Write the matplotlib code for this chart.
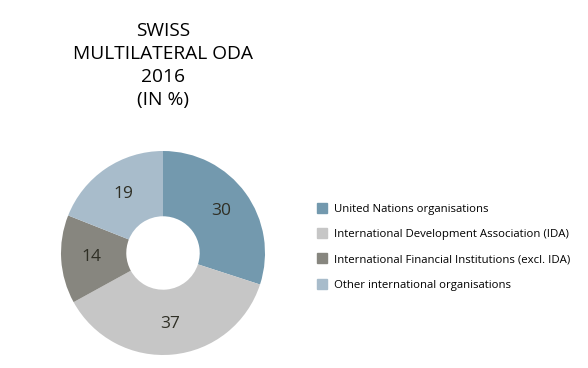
import matplotlib
matplotlib.use("Agg")
from matplotlib import pyplot as plt
from matplotlib.lines import Line2D

# data
labels = ["United Nations organisations",
          "International Development Association (IDA)",
          "International Financial Institutions (excl. IDA)",
          "Other international organisations"]
shares = [30, 37, 14, 19]
colors = ["#7399ae", "#c6c6c6", "#87867f", "#a8bccb"]
title = "SWISS\nMULTILATERAL ODA\n2016\n(IN %)"

plt.rcParams['font.family'] = ['Open Sans', 'DejaVu Sans']

W, H = 588, 368
fig = plt.figure(figsize=(W/100, H/100), dpi=100)

# pie axes: centre ~ (163,253), radius ~102 px
cx, cy, r = 163, 253, 102
ax = fig.add_axes([(cx-r)/W, (H-cy-r)/H, 2*r/W, 2*r/H])

wedges, texts = ax.pie(shares, colors=colors, startangle=90, counterclock=False,
                       radius=1, wedgeprops=dict(width=0.64, linewidth=0),
                       labels=[str(v) for v in shares], labeldistance=0.7,
                       textprops=dict(fontsize=12.5, color="#2f2f25", ha='center', va='center'))
ax.set_xlim(-1, 1)
ax.set_ylim(-1, 1)
ax.axis('off')

fig.text(cx/W, 1-22/H, title, ha='center', va='top', fontsize=13.8,
         color='#000000', linespacing=1.36)

handles = [Line2D([], [], marker='s', linestyle='', markersize=7.2,
                  markerfacecolor=c, markeredgecolor=c) for c in colors]
fig.legend(handles, labels, loc='upper left', bbox_to_anchor=(317/W, 1-204/H),
           frameon=False, fontsize=8.2, handlelength=0.9, handletextpad=0.55,
           labelspacing=1.25, borderaxespad=0, borderpad=0)

fig.savefig("out.png", dpi=100)
